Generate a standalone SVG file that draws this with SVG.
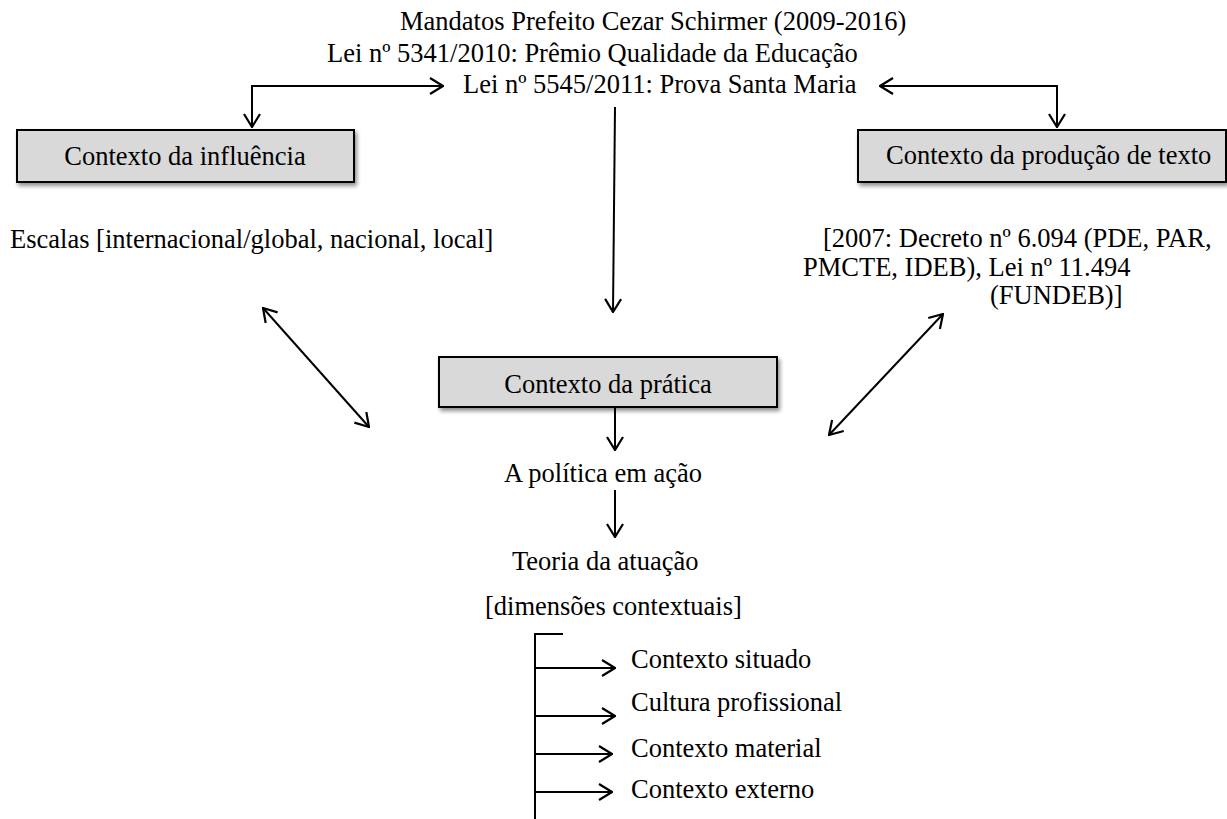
<svg xmlns="http://www.w3.org/2000/svg" width="1227" height="819" viewBox="0 0 1227 819">
  <defs>
    <marker id="arrow" viewBox="0 0 15 18" refX="14" refY="9" markerWidth="15" markerHeight="18" markerUnits="userSpaceOnUse" orient="auto-start-reverse">
      <polyline points="1,1 14,9 1,17" fill="none" stroke="#000" stroke-width="2.2"/>
    </marker>
    <filter id="shadow" x="-5%" y="-20%" width="115%" height="150%">
      <feGaussianBlur in="SourceAlpha" stdDeviation="2"/>
      <feOffset dx="2" dy="3" result="b"/>
      <feComponentTransfer><feFuncA type="linear" slope="0.45"/></feComponentTransfer>
      <feMerge><feMergeNode/><feMergeNode in="SourceGraphic"/></feMerge>
    </filter>
  </defs>
  <style>
    text { font-family: "Liberation Serif", "Times New Roman", serif; font-size: 26.5px; fill: #000; }
    .box { fill: #d9d9d9; stroke: #000; stroke-width: 2; filter: url(#shadow); }
    .conn { fill: none; stroke: #000; stroke-width: 2; }
    .arr { marker-end: url(#arrow); }
    .both { marker-start: url(#arrow); marker-end: url(#arrow); }
  </style>
  <rect width="1227" height="819" fill="#fff"/>

  <g id="header">
    <text x="400" y="30">Mandatos Prefeito Cezar Schirmer (2009-2016)</text>
    <text x="327" y="62">Lei nº 5341/2010: Prêmio Qualidade da Educação</text>
    <text x="463" y="93">Lei nº 5545/2011: Prova Santa Maria</text>
  </g>

  <g id="influencia">
    <rect class="box" x="17" y="130" width="337" height="52"/>
    <text x="185" y="165" text-anchor="middle">Contexto da influência</text>
    <text x="10" y="248">Escalas [internacional/global, nacional, local]</text>
  </g>

  <g id="producao">
    <rect class="box" x="858" y="130" width="368" height="52"/>
    <text x="886" y="164">Contexto da produção de texto</text>
    <text x="823" y="247">[2007: Decreto nº 6.094 (PDE, PAR,</text>
    <text x="803" y="276">PMCTE, IDEB), Lei nº 11.494</text>
    <text x="990" y="304">(FUNDEB)]</text>
  </g>

  <g id="pratica">
    <rect class="box" x="439" y="357" width="338" height="50"/>
    <text x="608" y="393" text-anchor="middle">Contexto da prática</text>
  </g>

  <g id="politica">
    <text x="504" y="482">A política em ação</text>
  </g>

  <g id="atuacao">
    <text x="512" y="570">Teoria da atuação</text>
    <text x="485" y="615">[dimensões contextuais]</text>
  </g>

  <g id="dimensoes">
    <text x="631" y="668">Contexto situado</text>
    <text x="631" y="711">Cultura profissional</text>
    <text x="631" y="757">Contexto material</text>
    <text x="631" y="798">Contexto externo</text>
  </g>

  <g id="connectors">
    <path class="conn both" d="M443,86 H252 V127"/>
    <path class="conn both" d="M880,86 H1057 V127"/>
    <path class="conn arr" d="M615,107 L613,312"/>
    <path class="conn arr" d="M615,407 V450"/>
    <path class="conn arr" d="M615,490 V537"/>
    <path class="conn both" d="M263,308 L369,427"/>
    <path class="conn both" d="M943,314 L829,435"/>
    <path class="conn" d="M563,634 H535 V819"/>
    <path class="conn arr" d="M535,668 H615"/>
    <path class="conn arr" d="M535,716 H615"/>
    <path class="conn arr" d="M535,754 H612"/>
    <path class="conn arr" d="M535,792 H612"/>
  </g>
</svg>
